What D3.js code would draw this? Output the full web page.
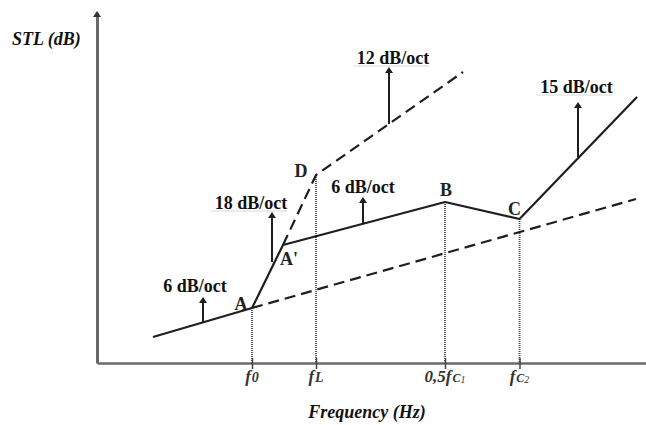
<!DOCTYPE html>
<html>
<head>
<meta charset="utf-8">
<script src="https://cdn.jsdelivr.net/npm/d3@7"></script>
<style>
  body { margin: 0; background: #fff; }
  svg { display: block; }
  .serif { font-family: "Liberation Serif", "DejaVu Serif", serif; }
</style>
</head>
<body>
<svg id="chart"></svg>
<script>
// schematic units: frequency in arbitrary octave-like units, STL in arbitrary dB units
const solidFreq = [11.2, 31, 37.2, 69.6, 84.5, 108];
const solidStl = [5.2, 11, 23.6, 32.2, 28.8, 53.2];

const massLawFreq = [31, 107.8];
const massLawStl = [11, 32.8];

const dashedFreq = [37.2, 43.8, 73.2];
const dashedStl = [23.6, 37.6, 58.2];

const pointNames = ["A", "A'", "D", "B", "C"];
const pointFreq = [31, 37.2, 43.8, 69.6, 84.5];
const pointStl = [11, 23.6, 37.6, 32.2, 28.8];

const tickFreq = [31, 43.8, 69.6, 84.5];
const tickLabels = [["f", "0"], ["f", "L"], ["0,5f", "C", "1"], ["f", "C", "2"]];

const slopeLabels = ["6 dB/oct", "18 dB/oct", "6 dB/oct", "12 dB/oct", "15 dB/oct"];
const slopeFreq = [21.2, 35, 53.2, 58.4, 96.2];
const slopeBase = [8.2, 20.2, 28, 47.8, 41.2];
const slopeTop = [13.2, 30.2, 33.2, 59.2, 52.2];

const width = 646, height = 425;

const svg = d3.select("#chart")
  .attr("width", width)
  .attr("height", height);

// Scales
const x = d3.scaleLinear().domain([0, 110]).range([97, 647]);
const y = d3.scaleLinear().domain([0, 70]).range([363, 13]);

const ink = "#1e1e1e";
const axisColor = "#6a6a6a";

// label offsets (pixels), layout only
const pointLabelOffset = { "A": [-11, 2, "middle"], "A'": [-3, 20, "start"], "D": [-15, 2, "middle"], "B": [1, -6, "middle"], "C": [-5, -4, "middle"] };
const slopeTextOffset = [[-8, -5], [-21, -3], [0, -4], [4, -3], [-1.5, -9]];

// Dotted verticals from key points down to the axis
const dropIdx = [0, 2, 3, 4];
svg.append("g")
  .selectAll("line")
  .data(dropIdx)
  .join("line")
  .attr("x1", i => x(pointFreq[i]))
  .attr("x2", i => x(pointFreq[i]))
  .attr("y1", i => y(pointStl[i]))
  .attr("y2", y(0))
  .attr("stroke", "#444")
  .attr("stroke-width", 1.8)
  .attr("stroke-dasharray", "1,1");

// Axes
const xAxis = d3.axisBottom(x)
  .tickValues(tickFreq)
  .tickSize(6)
  .tickSizeOuter(0)
  .tickFormat("");

const xAxisGroup = svg.append("g")
  .attr("transform", `translate(0,${y(0)})`)
  .call(xAxis);
xAxisGroup.select(".domain").attr("stroke", axisColor).attr("stroke-width", 2.5);
xAxisGroup.selectAll(".tick line")
  .attr("y1", -5)
  .attr("stroke", "#444")
  .attr("stroke-width", 1.5);

const yAxisGroup = svg.append("g")
  .attr("transform", `translate(${x(0)},0)`)
  .call(d3.axisLeft(y).tickValues([]).tickSizeOuter(0));
yAxisGroup.select(".domain").attr("stroke", axisColor).attr("stroke-width", 3);

// arrow head on the STL axis
svg.append("path")
  .attr("d", `M${x(0) - 4},${y(70) + 4} L${x(0)},${y(70) - 2} L${x(0) + 4},${y(70) + 4} Z`)
  .attr("fill", "#333");

// Tick labels
const tickText = svg.append("g")
  .attr("class", "serif")
  .attr("font-style", "italic")
  .attr("font-weight", "bold")
  .attr("fill", "#333")
  .selectAll("text")
  .data(tickFreq)
  .join("text")
  .attr("x", d => x(d))
  .attr("y", 382)
  .attr("text-anchor", "middle")
  .attr("font-size", 17);

tickText.each(function(d, i) {
  const parts = tickLabels[i];
  const t = d3.select(this);
  t.append("tspan").text(parts[0]);
  t.append("tspan").attr("font-size", parts[2] ? 12 : 14).attr("dx", 1).text(parts[1]);
  if (parts[2]) t.append("tspan").attr("font-size", 10).attr("font-weight", "normal").attr("dy", 1).text(parts[2]);
});

// Lines
const line = d3.line()
  .x(d => x(d[0]))
  .y(d => y(d[1]));

svg.append("path")
  .datum(d3.zip(massLawFreq, massLawStl))
  .attr("fill", "none")
  .attr("stroke", ink)
  .attr("stroke-width", 2.2)
  .attr("stroke-dasharray", "11,6")
  .attr("d", line);

svg.append("path")
  .datum(d3.zip(dashedFreq, dashedStl))
  .attr("fill", "none")
  .attr("stroke", ink)
  .attr("stroke-width", 2.2)
  .attr("stroke-dasharray", "11,6")
  .attr("d", line);

svg.append("path")
  .datum(d3.zip(solidFreq, solidStl))
  .attr("fill", "none")
  .attr("stroke", ink)
  .attr("stroke-width", 2.2)
  .attr("stroke-linejoin", "round")
  .attr("d", line);

// Slope arrows
const arrows = svg.append("g");
slopeLabels.forEach((label, i) => {
  const ax = x(slopeFreq[i]);
  const top = y(slopeTop[i]);
  arrows.append("line")
    .attr("x1", ax).attr("x2", ax)
    .attr("y1", y(slopeBase[i])).attr("y2", top + 4)
    .attr("stroke", ink)
    .attr("stroke-width", 2);
  arrows.append("path")
    .attr("d", `M${ax - 4},${top + 6} L${ax},${top} L${ax + 4},${top + 6} Z`)
    .attr("fill", ink);

  const [dx, dy] = slopeTextOffset[i];
  const txt = arrows.append("text")
    .attr("class", "serif")
    .attr("x", ax + dx)
    .attr("y", top + dy)
    .attr("text-anchor", "middle")
    .attr("font-size", 18)
    .attr("font-weight", "bold")
    .attr("fill", "#111")
    .text(label);

  // faint scan line under some labels, as in the source figure
  if (i >= 1 && i !== 2) {
    const w = txt.node().getComputedTextLength();
    arrows.append("line")
      .attr("x1", ax + dx - w / 2 - 4).attr("x2", ax + dx + w / 2)
      .attr("y1", top + dy + 2).attr("y2", top + dy + 2)
      .attr("stroke", "#d8d8d8")
      .attr("stroke-width", 1);
  }
});

// Point letters
svg.append("g")
  .attr("class", "serif")
  .attr("font-weight", "bold")
  .attr("font-size", 18)
  .attr("fill", "#222")
  .selectAll("text")
  .data(pointNames)
  .join("text")
  .attr("x", (d, i) => x(pointFreq[i]) + pointLabelOffset[d][0])
  .attr("y", (d, i) => y(pointStl[i]) + pointLabelOffset[d][1])
  .attr("text-anchor", d => pointLabelOffset[d][2])
  .text(d => d);

// Axis titles
svg.append("text")
  .attr("class", "serif")
  .attr("x", 12)
  .attr("y", 45)
  .attr("font-size", 18)
  .attr("font-weight", "bold")
  .attr("font-style", "italic")
  .attr("fill", "#111")
  .text("STL (dB)");

svg.append("text")
  .attr("class", "serif")
  .attr("x", 367)
  .attr("y", 418)
  .attr("text-anchor", "middle")
  .attr("font-size", 18)
  .attr("font-weight", "bold")
  .attr("font-style", "italic")
  .attr("fill", "#111")
  .text("Frequency (Hz)");
</script>
</body>
</html>
